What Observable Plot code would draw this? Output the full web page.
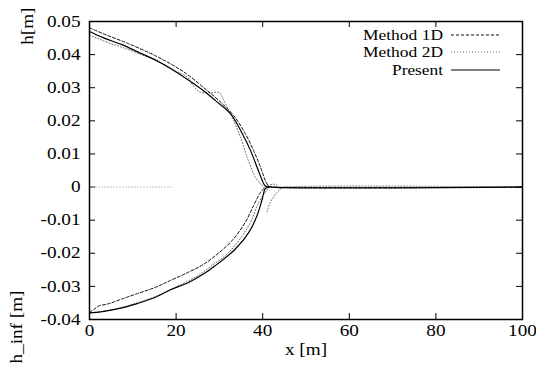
<!DOCTYPE html>
<html>
<head>
<meta charset="utf-8">
<script src="https://cdn.jsdelivr.net/npm/d3@7"></script>
<script src="https://cdn.jsdelivr.net/npm/@observablehq/plot@0.6"></script>
<style>
  html, body { margin: 0; padding: 0; background: #fff; }
  #wrap { position: relative; width: 536px; height: 367px; }
  #legend { position: absolute; left: 0; top: 0; pointer-events: none; }
  #wrap svg text { font-family: 'Liberation Serif', 'DejaVu Serif', serif !important; }
  #wrap svg.mainplot text { font-size: 16px !important; font-variant: normal !important; }
</style>
</head>
<body>
<div id="wrap"></div>
<script>
// ---- data ----
const xTicks = [0, 20, 40, 60, 80, 100];
const yTicks = [-0.04, -0.03, -0.02, -0.01, 0, 0.01, 0.02, 0.03, 0.04, 0.05];

// Present (solid)
const presentUpperX = [0, 3, 7.5, 11, 15.2, 18.7, 22.4, 26.4, 29.1, 32.6, 35.3, 37.2, 38.7, 39.9, 40.6, 42, 100];
const presentUpperH = [0.0470, 0.0452, 0.0430, 0.0409, 0.0384, 0.0358, 0.0327, 0.0290, 0.0261, 0.0221, 0.0161, 0.0110, 0.0060, 0.0020, 0.0003, 0, 0];
const presentLowerX = [0, 3, 7.5, 11, 15.2, 18.7, 22.9, 26.4, 29.1, 33.7, 36.8, 38.7, 39.9, 40.6, 41.5];
const presentLowerH = [-0.0380, -0.0376, -0.0365, -0.0352, -0.0333, -0.0310, -0.0288, -0.0262, -0.0237, -0.0187, -0.0137, -0.0086, -0.0036, -0.0005, 0];

// Method 1D (dashed)
const m1UpperX = [0, 3, 9, 15, 19, 22.4, 26.4, 29.9, 33.3, 36, 37.9, 39.5, 40.6, 41.4, 43, 100];
const m1UpperH = [0.0481, 0.0464, 0.0433, 0.0398, 0.0370, 0.0342, 0.0300, 0.0261, 0.0216, 0.0161, 0.0110, 0.0060, 0.0020, 0.0003, 0, 0];
const m1LowerX = [0, 1, 2, 4.5, 7.5, 11, 15.2, 18.7, 22.9, 26.4, 29.1, 32.9, 36, 37.9, 39.5, 40.6];
const m1LowerH = [-0.0378, -0.0370, -0.0360, -0.0352, -0.0338, -0.0322, -0.0303, -0.0282, -0.0257, -0.0233, -0.0207, -0.0162, -0.0106, -0.0056, -0.0016, 0];

// Method 2D (dotted)
const m2UpperX = [0, 2, 5, 8, 12, 16, 20, 22.5, 24, 25.5, 28, 30, 31, 32, 33.3, 34.9, 36.4, 38.3, 39.5, 40.3, 41.5, 43, 44, 45, 100];
const m2UpperH = [0.0458, 0.0448, 0.0433, 0.0420, 0.0400, 0.0378, 0.0350, 0.0333, 0.0305, 0.0287, 0.0285, 0.0285, 0.0262, 0.0235, 0.0200, 0.0150, 0.0090, 0.0030, 0.0010, 0, 0.0006, 0.0008, -0.0003, 0, 0];
const m2LowerX = [0, 5, 10, 15, 20, 25, 28, 32.2, 36.8, 39.1, 40.6, 41.5];
const m2LowerH = [-0.0380, -0.0371, -0.0354, -0.0332, -0.0302, -0.0268, -0.0240, -0.0197, -0.0116, -0.0046, -0.0016, -0.0003];
const m2TailX = [41.0, 41.8, 43.2, 44.5];
const m2TailH = [-0.0075, -0.0045, -0.0018, -0.0002];
const m2BaseX = [0, 19];
const m2BaseH = [0, 0];

const legendLabels = ["Method 1D", "Method 2D", "Present"];

// ---- helpers ----
const rows = (xs, hs) => xs.map((x, i) => ({x, h: hs[i]}));
const fmt = d => d === 0 ? "0" : (d < 0 ? "-" : "") + Math.abs(d).toFixed(2);
const SERIF = "'Liberation Serif', 'DejaVu Serif', serif";

// plot geometry
const W = 536, H = 367;
const mL = 89, mR = 14, mT = 21, mB = 48;
const xPx = (W - mL - mR) / 100;           // px per x unit
const yPx = (H - mT - mB) / 0.09;          // px per h unit
const tick = 6;
const tx = tick / xPx, ty = tick / yPx;

const solid = {stroke: "#000", strokeWidth: 1.2};
const dashed = {stroke: "#111", strokeWidth: 1, strokeDasharray: "3,2"};
const dotted = {stroke: "#666", strokeWidth: 1, strokeDasharray: "1,2"};
const crv = {curve: "catmull-rom"};

const chart = Plot.plot({
  width: W, height: H,
  marginLeft: mL, marginRight: mR, marginTop: mT, marginBottom: mB,
  className: "mainplot",
  style: {fontFamily: SERIF, fontSize: "16px", color: "#000", background: "#fff"},
  x: {domain: [0, 100], label: null},
  y: {domain: [-0.04, 0.05], label: null},
  marks: [
    Plot.axisX({ticks: xTicks, tickSize: 0, tickPadding: 5, tickFormat: d => String(d), label: null}),
    Plot.axisY({ticks: yTicks, tickSize: 0, tickPadding: 9, tickFormat: fmt, label: null}),
    // inward ticks on all four sides
    Plot.ruleY(yTicks, {y: d => d, x1: 0, x2: tx, stroke: "#000"}),
    Plot.ruleY(yTicks, {y: d => d, x1: 100 - tx, x2: 100, stroke: "#000"}),
    Plot.ruleX(xTicks, {x: d => d, y1: -0.04, y2: -0.04 + ty, stroke: "#000"}),
    Plot.ruleX(xTicks, {x: d => d, y1: 0.05 - ty, y2: 0.05, stroke: "#000"}),
    // curves
    Plot.line(rows(m2BaseX, m2BaseH), {x: "x", y: "h", stroke: "#bbb", strokeWidth: 1, strokeDasharray: "1,2"}),
    Plot.line(rows(m2UpperX, m2UpperH), {x: "x", y: "h", ...dotted, ...crv}),
    Plot.line(rows(m2LowerX, m2LowerH), {x: "x", y: "h", ...dotted, ...crv}),
    Plot.line(rows(m2TailX, m2TailH), {x: "x", y: "h", ...dotted, ...crv}),
    Plot.line(rows(m1UpperX, m1UpperH), {x: "x", y: "h", ...dashed, ...crv}),
    Plot.line(rows(m1LowerX, m1LowerH), {x: "x", y: "h", ...dashed, ...crv}),
    Plot.line(rows(presentUpperX, presentUpperH), {x: "x", y: "h", ...solid, ...crv}),
    Plot.line(rows(presentLowerX, presentLowerH), {x: "x", y: "h", ...solid, ...crv}),
    Plot.frame({stroke: "#000", strokeWidth: 1.5}),
    // axis titles
    Plot.text(["h[m]"], {text: d => d, frameAnchor: "top-left", dx: -68, dy: -14, rotate: -90, textAnchor: "end"}),
    Plot.text(["h_inf [m]"], {text: d => d, frameAnchor: "bottom-left", dx: -68, dy: 44, rotate: -90, textAnchor: "start"}),
    Plot.text(["x [m]"], {text: d => d, frameAnchor: "bottom", dy: 35})
  ]
});

const wrap = document.getElementById("wrap");
wrap.appendChild(chart);

// the reference typeface is wider than Liberation Serif: stretch glyphs a little
d3.select(chart).selectAll("text").each(function () {
  const L = this.getComputedTextLength();
  if (L > 0) {
    this.setAttribute("textLength", (L * 1.2).toFixed(1));
    this.setAttribute("lengthAdjust", "spacingAndGlyphs");
  }
});

// legend overlay (inside the frame, top right)
const styles = [dashed, dotted, solid];
const widths = [80, 80, 51];
const leg = d3.select(wrap).append("svg").attr("id", "legend")
  .attr("width", W).attr("height", H);
const rowsY = [35, 52, 70];
legendLabels.forEach((lab, i) => {
  leg.append("text").attr("x", 443).attr("y", rowsY[i]).attr("dy", "0.35em")
    .attr("text-anchor", "end")
    .attr("font-family", SERIF)
    .attr("font-size", 15).attr("fill", "#000")
    .attr("textLength", widths[i]).attr("lengthAdjust", "spacingAndGlyphs")
    .text(lab);
  const s = styles[i];
  leg.append("line").attr("x1", 451).attr("x2", 500).attr("y1", rowsY[i]).attr("y2", rowsY[i])
    .attr("stroke", s.stroke).attr("stroke-width", s.strokeWidth)
    .attr("stroke-dasharray", s.strokeDasharray || null);
});
</script>
</body>
</html>
